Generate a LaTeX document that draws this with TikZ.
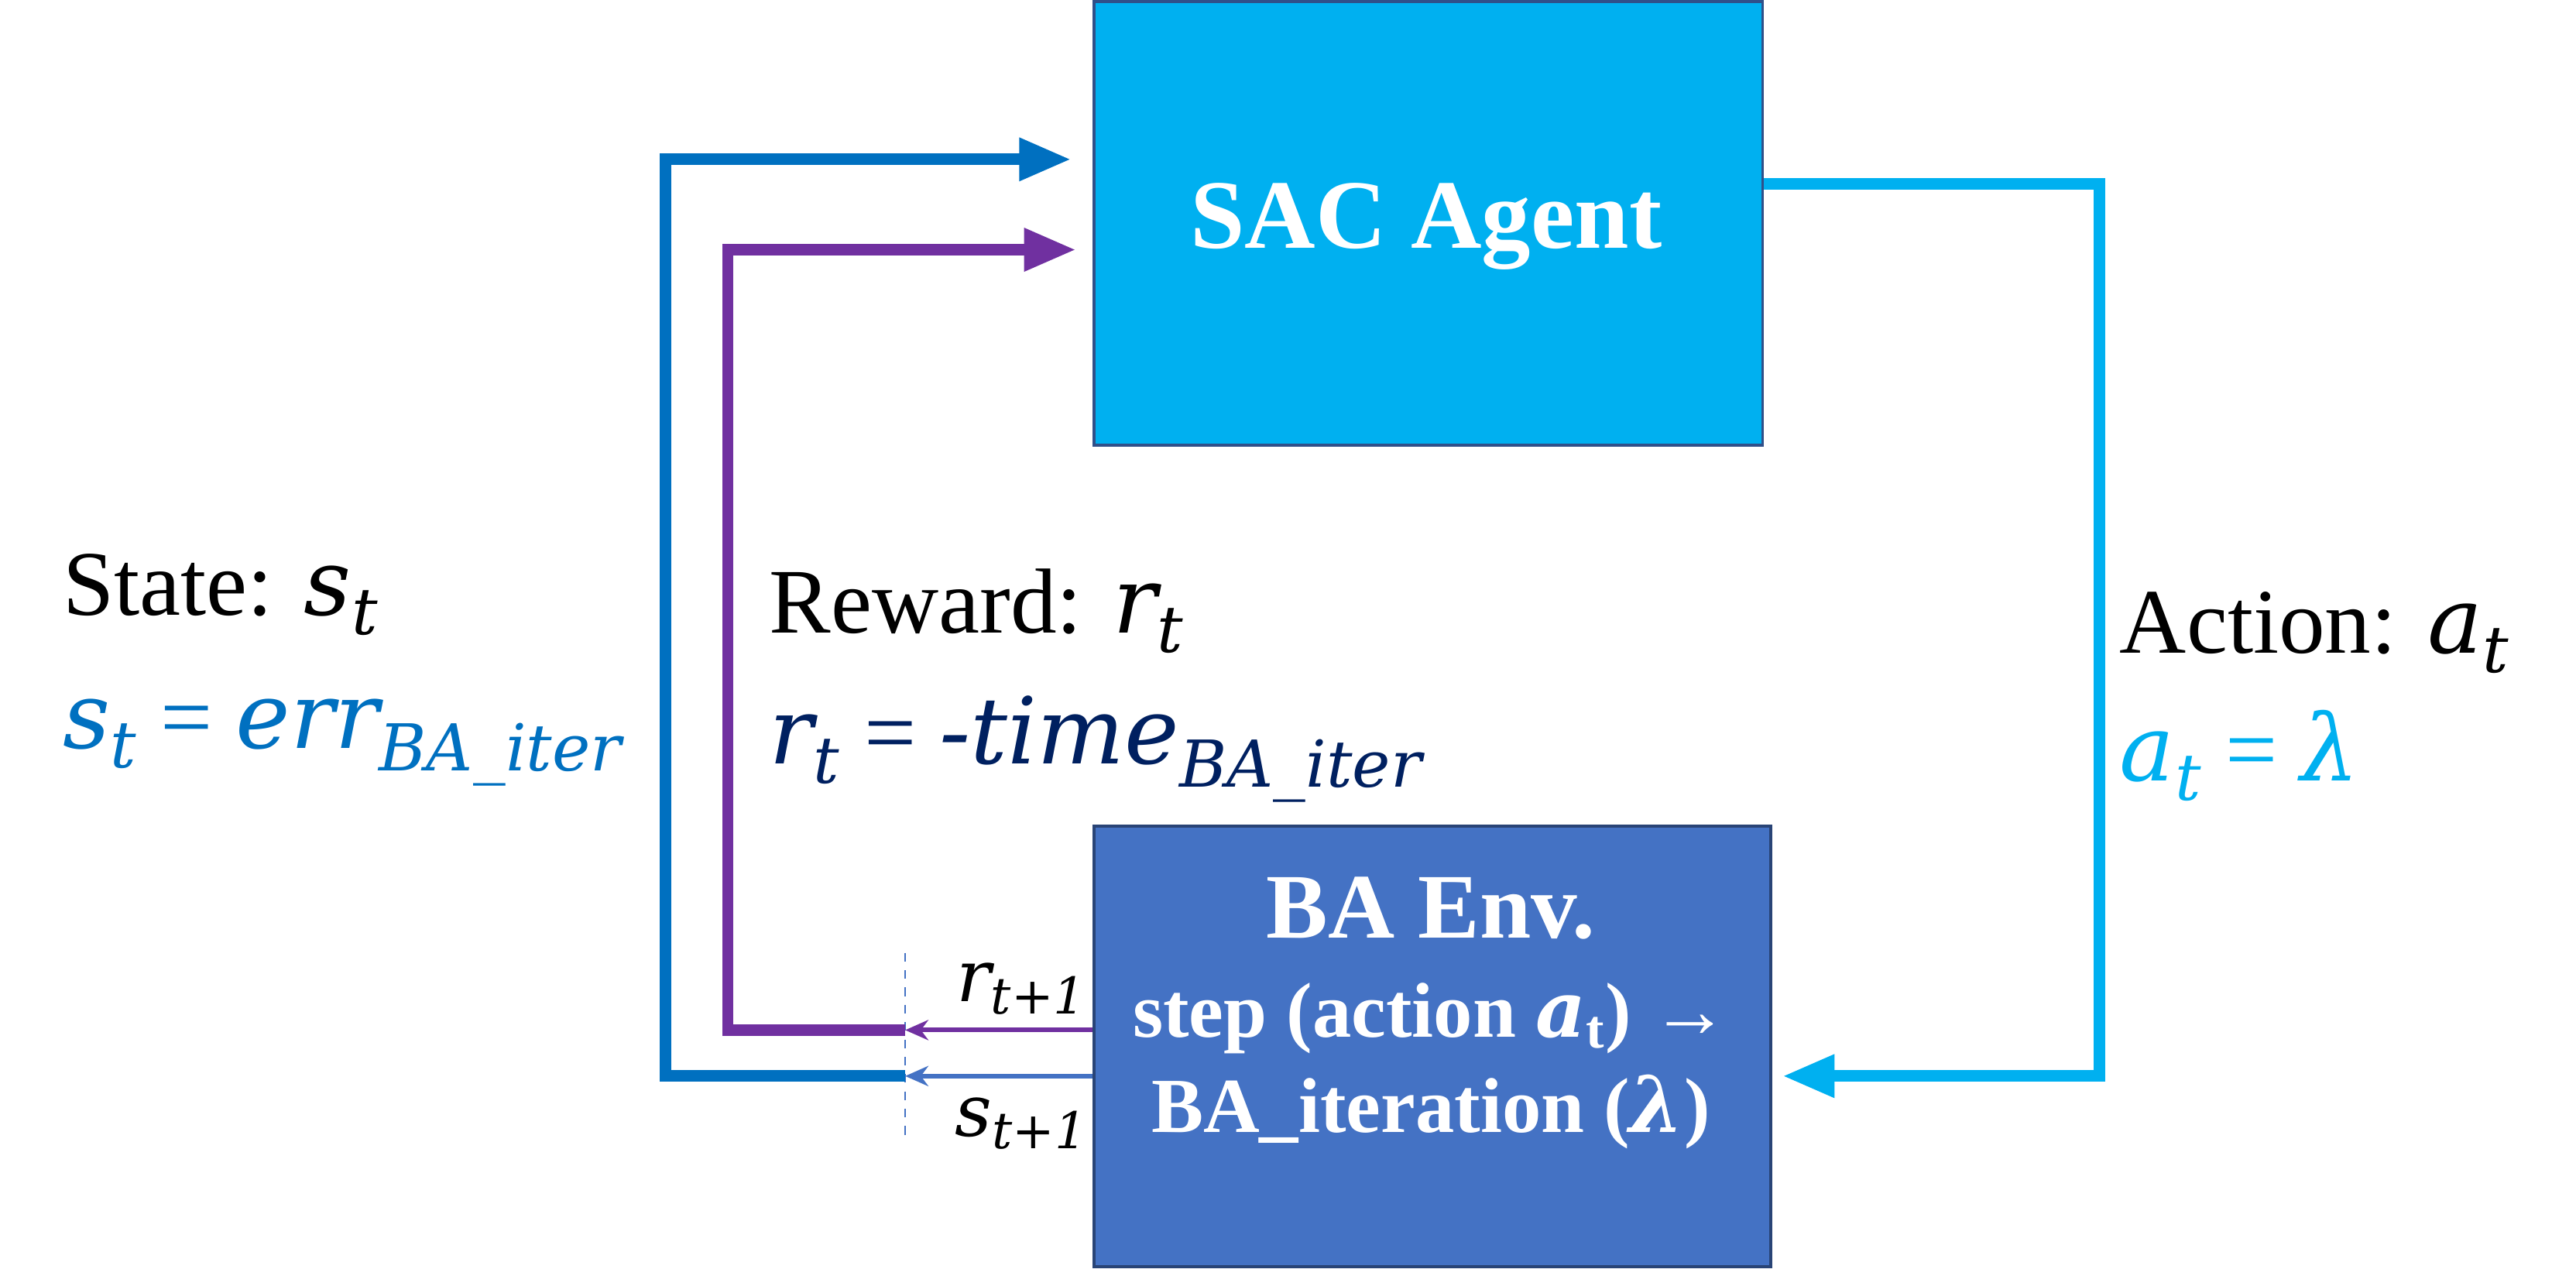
\documentclass[tikz,border=0pt]{standalone}
\usepackage{fontspec}
\setmainfont{Liberation Serif}
\newfontfamily\mfont{DejaVu Serif}
\usetikzlibrary{arrows.meta}
\definecolor{sacc}{HTML}{00B0F0}
\definecolor{envc}{HTML}{4472C4}
\definecolor{stc}{HTML}{0070C0}
\definecolor{purp}{HTML}{7030A0}
\definecolor{navy}{HTML}{002060}
\newcommand{\mv}[2]{{\mfont\itshape #1\textsubscript{#2}}}
\begin{document}
\begin{tikzpicture}[x=0.02cm,y=-0.02cm,
  thickline/.style={line width=4pt},
  thinline/.style={line width=1.6pt,-{Stealth[length=8pt,width=7pt]}},
  bigarrow/.style={-{Triangle[length=18pt,width=14pt]}},
  lbl/.style={anchor=west,inner sep=0pt,font=\fontsize{32}{34}\selectfont}]
\useasboundingbox (0,0) rectangle (1568,772);
\node[draw=envc!70!black,fill=sacc,line width=1pt,minimum width=407*0.02cm,minimum height=270*0.02cm,anchor=north west,inner sep=0pt] (sac) at (665,0) {};
\node[text=white,font=\fontsize{34}{36}\selectfont\bfseries] (sact) at (868,138) {SAC Agent};
\node[draw=envc!60!black,fill=envc,line width=1pt,minimum width=412*0.02cm,minimum height=268*0.02cm,anchor=north west,inner sep=0pt] (env) at (665,502) {};
\node[text=white,font=\fontsize{32}{34}\selectfont\bfseries] (envt) at (871,553) {BA Env.};
\node[text=white,font=\fontsize{27}{29}\selectfont\bfseries] (step) at (871,620) {step (action {\mfont\itshape a}\textsubscript{t}) →};
\node[text=white,font=\fontsize{27}{29}\selectfont\bfseries] (iter) at (871,677) {BA\_iteration ({\mfont\bfseries\itshape λ})};
\coordinate (d) at (551,627);
\coordinate (e) at (551,655);
\draw[envc,thin,dashed] (551,580) -- (551,692);
\draw[purp,thinline] (env.west |- d) -- (d);
\draw[envc,thinline] (env.west |- e) -- (e);
\draw[stc,thickline,bigarrow] (e) -- (405,655) -- (405,97) -- (652,97);
\draw[purp,thickline,bigarrow] (d) -- (443,627) -- (443,152) -- (655,152);
\draw[sacc,thickline,bigarrow] (sac.east |- 0,112) -- (1278,112) -- (1278,655) -- (1085,655);
\node[font=\fontsize{25}{27}\selectfont] (r1) at (622,602) {\mv{r}{t+1}};
\node[font=\fontsize{25}{27}\selectfont] (s1) at (622,684) {\mv{s}{t+1}};
\node[lbl] (st) at (38,362) {State: \mv{s}{t}};
\node[lbl,text=stc] (ste) at (38,452) {\mv{s}{t} = \mv{err}{BA\_iter}};
\node[lbl] (rw) at (468,372) {Reward: \mv{r}{t}};
\node[lbl,text=navy] (rwe) at (468,456) {\mv{r}{t} = \mv{-time}{BA\_iter}};
\node[lbl] (ac) at (1290,385) {Action: \mv{a}{t}};
\node[lbl,text=sacc] (ace) at (1290,460) {\mv{a}{t} = \mv{λ}{}};
\end{tikzpicture}
\end{document}
